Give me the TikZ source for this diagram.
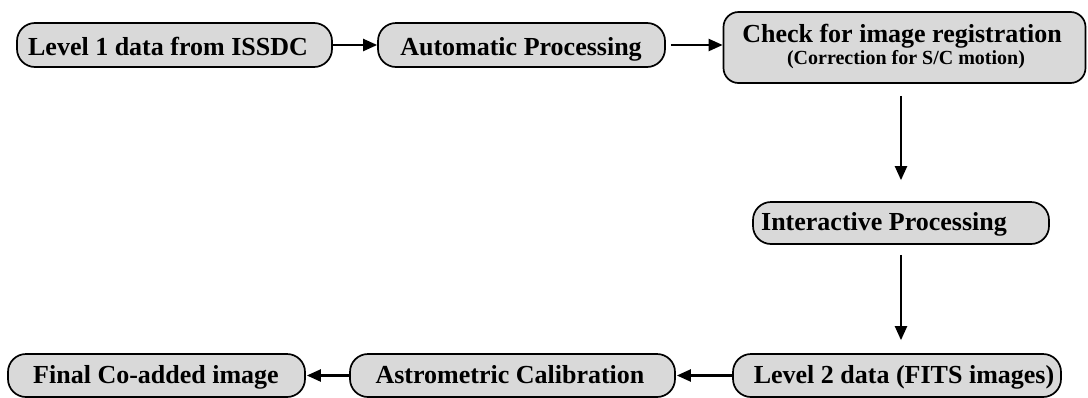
\documentclass[tikz,border=0pt]{standalone}
\usepackage{fontspec}
\setmainfont{Liberation Serif}
\usetikzlibrary{arrows.meta}
\tikzset{
  box/.style={draw=black, line width=1.7pt, fill=gray!30, rounded corners=18pt, inner sep=0pt},
  lbl/.style={font=\bfseries\fontsize{26}{28}\selectfont, anchor=base, inner sep=0pt},
  sublbl/.style={font=\bfseries\fontsize{20}{22}\selectfont, anchor=base, inner sep=0pt},
  arr/.style={line width=2.2pt, -{Triangle[length=14pt,width=12pt]}}
}
\begin{document}
\begin{tikzpicture}[x=1pt,y=-1pt]
\useasboundingbox (0,0) rectangle (1088,397);
% boxes
\node[box, minimum width=315pt, minimum height=44pt] (n1) at (174.5,45) {};
\node[box, minimum width=287pt, minimum height=44pt] (n2) at (521.5,45) {};
\node[box, minimum width=362pt, minimum height=71pt, rounded corners=15pt] (n3) at (904.5,47.5) {};
\node[box, minimum width=296pt, minimum height=42pt] (n4) at (901,223) {};
\node[box, minimum width=328pt, minimum height=43pt] (n5) at (897,375.5) {};
\node[box, minimum width=325pt, minimum height=43pt] (n6) at (512.5,375.5) {};
\node[box, minimum width=297pt, minimum height=43pt] (n7) at (156.5,375.5) {};
% labels
\node[lbl] (t1) at (168,55) {Level 1 data from ISSDC};
\node[lbl] (t2) at (521,55) {Automatic Processing};
\node[lbl] (t3) at (902,42) {Check for image registration};
\node[sublbl] (t3b) at (906,64) {(Correction for S/C motion)};
\node[lbl] (t4) at (884,230) {Interactive Processing};
\node[lbl] (t5) at (904,383) {Level 2 data (FITS images)};
\node[lbl] (t6) at (510,383) {Astrometric Calibration};
\node[lbl] (t7) at (156,383) {Final Co-added image};
% connectors
\draw[arr] (n1.east) -- (n2.west);
\draw[arr, shorten <=5pt] (n2.east) -- (n2.east -| n3.west);
\draw[arr, shorten <=12pt, shorten >=21pt] (n4.north |- n3.south) -- (n4.north);
\draw[arr, shorten <=10pt, shorten >=13pt] (n4.south) -- (n4.south |- n5.north);
\draw[arr, shorten >=1pt] (n5.west) -- (n6.east);
\draw[arr, shorten >=1pt] (n6.west) -- (n7.east);
\end{tikzpicture}
\end{document}
